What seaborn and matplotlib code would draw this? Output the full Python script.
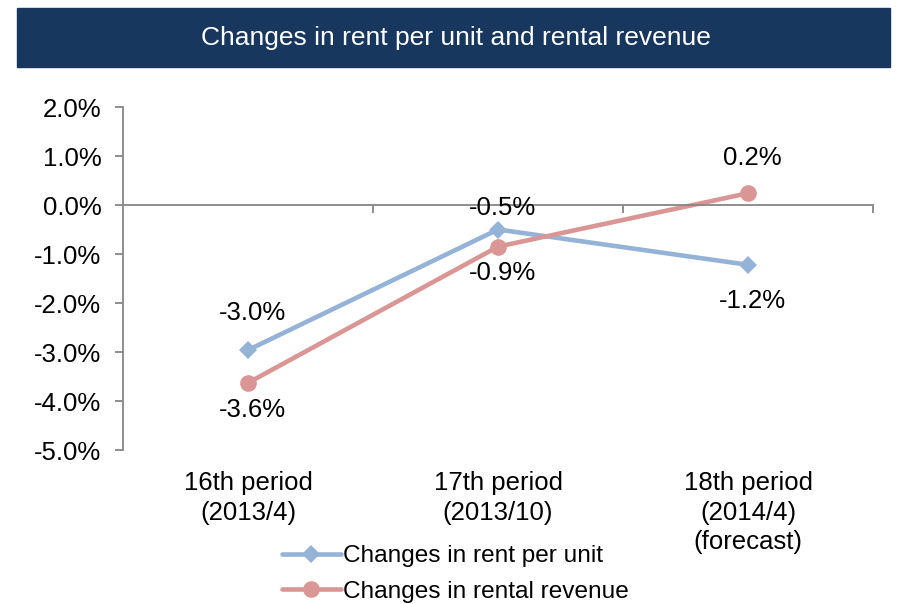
import matplotlib
matplotlib.use("Agg")
import matplotlib.pyplot as plt
import matplotlib.transforms as mtransforms
from matplotlib.patches import Rectangle
import seaborn as sns
import pandas as pd

categories = ["16th period\n(2013/4)", "17th period\n(2013/10)", "18th period\n(2014/4)\n(forecast)"]
rent_per_unit = [-2.96, -0.50, -1.22]
rental_revenue = [-3.63, -0.85, 0.24]
rent_labels = ["-3.0%", "-0.5%", "-1.2%"]
revenue_labels = ["-3.6%", "-0.9%", "0.2%"]
series_names = ["Changes in rent per unit", "Changes in rental revenue"]
y_ticks = [2, 1, 0, -1, -2, -3, -4, -5]

sns.set_style("white")
plt.rcParams["font.family"] = ["Liberation Sans", "DejaVu Sans"]
plt.rcParams["text.color"] = "black"
plt.rcParams["ytick.labelcolor"] = "black"

FS = 18.5
W, H = 908, 604
fig = plt.figure(figsize=(W / 100, H / 100), dpi=100)
ax = fig.add_axes([123 / W, 1 - 450 / H, (873 - 123) / W, (450 - 107) / H])

# title banner
fig.patches.append(Rectangle((17 / W, 1 - 67 / H), (890 - 17) / W, 59 / H,
                             transform=fig.transFigure, color="#17375e", zorder=0))
fig.text((17 + 890) / 2 / W + 2 / W, 1 - 38 / H, "Changes in rent per unit and rental revenue",
         color="white", fontsize=19, ha="center", va="center")

x = list(range(len(categories)))
df = pd.DataFrame({"x": x + x,
                   "v": rent_per_unit + rental_revenue,
                   "s": [series_names[0]] * 3 + [series_names[1]] * 3})
colors = {series_names[0]: "#95b3d7", series_names[1]: "#d99694"}
markers = {series_names[0]: "D", series_names[1]: "o"}
sizes = {series_names[0]: 9, series_names[1]: 12}
for name in series_names:
    sub = df[df.s == name]
    sns.lineplot(data=sub, x="x", y="v", ax=ax, color=colors[name], lw=3.3,
                 marker=markers[name], markersize=sizes[name], markeredgewidth=0,
                 label=name, legend=False)

gray = "#868686"
ax.set_xlim(-0.5, len(categories) - 0.5)
ax.set_ylim(-5, 2)
ax.set_yticks(y_ticks)
ax.set_yticklabels([f"{t:.1f}%" for t in y_ticks], fontsize=FS)
ax.spines["top"].set_visible(False)
ax.spines["right"].set_visible(False)
ax.spines["left"].set_color(gray)
ax.spines["left"].set_linewidth(1.3)
ax.spines["bottom"].set_position(("data", 0))
ax.spines["bottom"].set_color(gray)
ax.spines["bottom"].set_linewidth(1.3)
ax.tick_params(axis="y", left=True, length=6, width=1.3, color=gray, pad=9.5, labelcolor="black")
ax.set_xticks([i + 0.5 for i in x])
ax.set_xticklabels([])
ax.tick_params(axis="x", bottom=True, length=6, width=1.3, color=gray, direction="out")
ax.set_xlabel("")
ax.set_ylabel("")

trans = mtransforms.blended_transform_factory(ax.transData, ax.transAxes)
for i, c in enumerate(categories):
    ax.text(i, -21 / 343, c, transform=trans, ha="center", va="top", fontsize=FS,
            linespacing=1.3)

rent_off = [37, 22, -36]
rev_off = [-27, -26, 35]
for i in x:
    ax.annotate(rent_labels[i], (i, rent_per_unit[i]), xytext=(4, rent_off[i]),
                textcoords="offset pixels", ha="center", va="center", fontsize=FS)
    ax.annotate(revenue_labels[i], (i, rental_revenue[i]), xytext=(4, rev_off[i]),
                textcoords="offset pixels", ha="center", va="center", fontsize=FS)

handles, labels = ax.get_legend_handles_labels()
fig.legend(handles, labels, loc="upper left", bbox_to_anchor=(282 / W, 1 - 545 / H),
           frameon=False, fontsize=17.6, handlelength=2.4, handletextpad=0.1,
           labelspacing=0.55, borderpad=0, borderaxespad=0)

fig.savefig("out.png", dpi=100)
